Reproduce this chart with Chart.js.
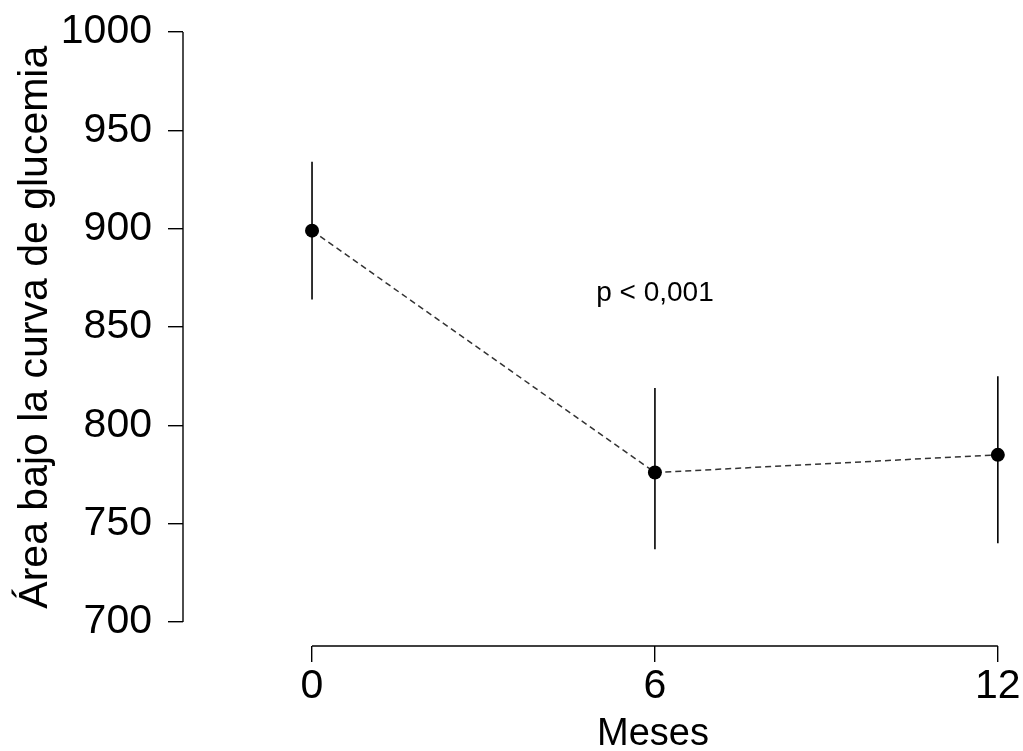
<!DOCTYPE html>
<html>
<head>
<meta charset="utf-8">
<script src="https://cdn.jsdelivr.net/npm/chart.js@4/dist/chart.umd.min.js"></script>
<style>
  html, body { margin: 0; padding: 0; background: #fff; overflow: hidden; }
  #wrap { width: 1023px; height: 751px; overflow: hidden; position: relative; }
  #c { position: absolute; left: 0; top: 0; }
</style>
</head>
<body>
<div id="wrap"><canvas id="c" width="1123" height="751"></canvas></div>
<script>
// ---- data ----
const months = [0, 6, 12];
const meanValues = [899, 776, 785];
const lowerValues = [864, 737, 740];
const upperValues = [934, 819, 825];
const xTicks = [0, 6, 12];
const yTicks = [700, 750, 800, 850, 900, 950, 1000];
const xTitle = 'Meses';
const yTitle = 'Área bajo la curva de glucemia';
const annotationText = 'p < 0,001';
const annotationAt = { x: 6, y: 863 };

const FONT = '"Liberation Sans", Arial, Helvetica, sans-serif';

const meanData = months.map((m, i) => ({ x: m, y: meanValues[i] }));
const errDatasets = months.map((m, i) => ({
  data: [{ x: m, y: lowerValues[i] }, { x: m, y: upperValues[i] }],
  showLine: true,
  borderColor: '#000',
  borderWidth: 1.6,
  pointRadius: 0,
  pointHoverRadius: 0,
  order: 2
}));

const rAxes = {
  id: 'rAxes',
  afterDraw(chart) {
    const ctx = chart.ctx;
    const xs = chart.scales.x, ys = chart.scales.y;
    ctx.save();
    ctx.strokeStyle = '#000';
    ctx.lineWidth = 1.4;
    ctx.lineCap = 'butt';
    const yl = chart.chartArea.left;
    ctx.beginPath();
    ctx.moveTo(yl, ys.getPixelForValue(yTicks[0]));
    ctx.lineTo(yl, ys.getPixelForValue(yTicks[yTicks.length - 1]));
    ctx.stroke();
    const xb = chart.chartArea.bottom;
    ctx.beginPath();
    ctx.moveTo(xs.getPixelForValue(xTicks[0]), xb);
    ctx.lineTo(xs.getPixelForValue(xTicks[xTicks.length - 1]), xb);
    ctx.stroke();
    ctx.fillStyle = '#000';
    ctx.font = '28px ' + FONT;
    ctx.textAlign = 'center';
    ctx.textBaseline = 'alphabetic';
    ctx.fillText(annotationText, xs.getPixelForValue(annotationAt.x), ys.getPixelForValue(annotationAt.y));
    ctx.restore();
  }
};

new Chart(document.getElementById('c'), {
  type: 'scatter',
  data: {
    datasets: [
      {
        data: meanData,
        showLine: true,
        borderColor: '#333',
        borderWidth: 1.5,
        borderDash: [6, 4],
        pointRadius: 7,
        pointHoverRadius: 7,
        pointBackgroundColor: '#000',
        pointBorderColor: '#000',
        pointBorderWidth: 0,
        order: 1
      },
      ...errDatasets
    ]
  },
  options: {
    responsive: false,
    animation: false,
    events: [],
    layout: { padding: { top: 8.4, right: 0, left: 0, bottom: 0 }, autoPadding: false },
    plugins: { legend: { display: false }, tooltip: { enabled: false } },
    scales: {
      x: {
        type: 'linear',
        min: -2.2576,
        max: 14.19,
        afterBuildTicks: s => { s.ticks = xTicks.map(v => ({ value: v })); },
        afterFit: s => { s.height = 105; s.paddingLeft = 0; s.paddingRight = 0; },
        border: { display: false },
        grid: { display: true, drawOnChartArea: false, drawTicks: true, tickLength: 16, color: '#000', lineWidth: 1.4 },
        ticks: {
          autoSkip: false, maxRotation: 0, minRotation: 0,
          padding: 4, color: '#000',
          font: { family: FONT, size: 41, lineHeight: 1 },
          callback: v => String(v)
        },
        title: {
          display: true, text: xTitle, color: '#000',
          font: { family: FONT, size: 38, lineHeight: 1 },
          padding: { top: 0, bottom: -3 }
        }
      },
      y: {
        type: 'linear',
        min: 687.8,
        max: 1012,
        afterBuildTicks: s => { s.ticks = yTicks.map(v => ({ value: v })); },
        afterFit: s => { s.width = 183; s.paddingTop = 0; s.paddingBottom = 0; },
        border: { display: false },
        grid: { display: true, drawOnChartArea: false, drawTicks: true, tickLength: 15, color: '#000', lineWidth: 1.4 },
        ticks: {
          autoSkip: false, padding: 16, color: '#000',
          font: { family: FONT, size: 41, lineHeight: 1 },
          callback: v => String(v)
        },
        title: {
          display: true, text: yTitle, color: '#000',
          font: { family: FONT, size: 41, lineHeight: 1 },
          padding: { top: 15, bottom: 0 }
        }
      }
    }
  },
  plugins: [rAxes]
});
</script>
</body>
</html>
